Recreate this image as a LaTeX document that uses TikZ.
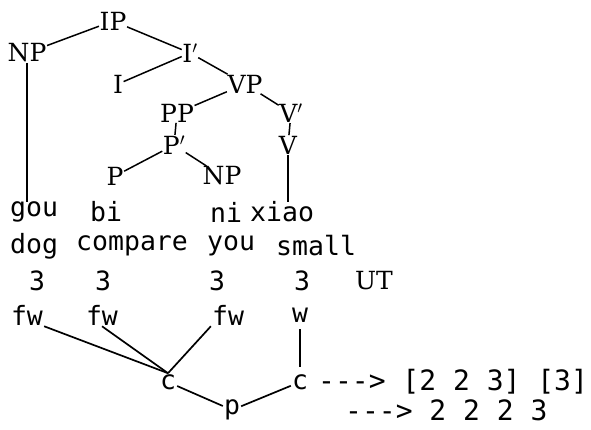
\documentclass[tikz,border=0pt]{standalone}
\usepackage{fontspec}
\setmainfont{Liberation Serif}
\newfontfamily\treefont{DejaVu Serif}
\newfontfamily\glossfont{DejaVu Sans Mono}
\usetikzlibrary{positioning}

% looks of the two parts of the picture
\tikzset{cat/.style    = {font=\treefont\fontsize{25}{25}\selectfont, inner sep=0.5pt},
         word/.style   = {font=\glossfont\fontsize{26.5}{26.5}\selectfont, inner sep=0pt, anchor=west},
         tone/.style   = {font=\glossfont\fontsize{26.5}{26.5}\selectfont, inner sep=1pt},
         result/.style = {font=\glossfont\fontsize{28}{28}\selectfont, inner sep=0pt, anchor=west},
         branch/.style = {line width=1.5pt},
         link/.style   = {line width=1.7pt}}

\begin{document}
\begin{tikzpicture}[x=1pt, y=-1pt]
\useasboundingbox (0,0) rectangle (591,429);
% syntax tree
\node (ip)   [cat] at (113, 21) {IP};
\node (np)   [cat] at ( 27, 53) {NP};
\node (ib)   [cat] at (190, 53) {I$'$};
\node (i)    [cat] at (118, 84) {I};
\node (vp)   [cat] at (245, 84) {VP};
\node (pp)   [cat] at (177,113) {PP};
\node (vb)   [cat] at (291,113) {V$'$};
\node (pb)   [cat] at (174,145) {P$'$};
\node (v)    [cat] at (288,145) {V};
\node (p)    [cat] at (115,176) {P};
\node (npb)  [cat] at (222,176) {NP};

% words and glosses
\node (gou)  [word] at ( 10,212) {gou};
\node (bi)   [word] at ( 90,212) {bi};
\node (ni)   [word] at (210,212) {ni};
\node (xiao) [word] at (250,212) {xiao};
\node (dog)  [word] at ( 10,246) {dog};
\node (cmp)  [word] at ( 76,246) {compare};
\node (you)  [word] at (207,246) {you};
\node (sml)  [word] at (276,246) {small};

% tones and feet
\node (ta)   [tone] at ( 37,281) {3};
\node (tb)   [tone] at (103,281) {3};
\node (tc)   [tone] at (217,281) {3};
\node (td)   [tone] at (302,281) {3};
\node (ut)   [cat]  at (374,281) {UT};
\node (fa)   [tone] at ( 27,315) {fw};
\node (fb)   [tone] at (102,315) {fw};
\node (fc)   [tone] at (228,315) {fw};
\node (w)    [tone] at (300,315) {w};
\node (ca)   [tone] at (168,382) {c};
\node (cb)   [tone] at (300,382) {c};
\node (ph)   [tone] at (232,410) {p};
\node (ra)   [result] at (318,382) {---> [2 2 3] [3]};
\node (rb)   [result] at (345,410) {--->  2 2 2 3};

\draw [branch] (np) -- (ip);
\draw [branch] (ip) -- (ib);
\draw [branch] (i)  -- (ib);
\draw [branch] (ib) -- (vp);
\draw [branch] (pp) -- (vp);
\draw [branch] (vp) -- (vb);
\draw [branch] (pp) -- (pb);
\draw [branch] (vb) -- (v);
\draw [branch] (p)  -- (pb);
\draw [branch] (pb) -- (npb);
\draw [branch] (np) -- (np |- gou.north);
\draw [branch] (v)  -- (v |- xiao.north);

\draw [link] (fa.south east) -- (ca.north);
\draw [link] (fb.south) -- (ca.north);
\draw [link] (fc.south west) -- (ca.north);
\draw [link, shorten <=6pt, shorten >=6pt] (w) -- (cb);
\draw [link] (ca) -- (ph);
\draw [link] (ph) -- (cb);
\end{tikzpicture}
\end{document}
